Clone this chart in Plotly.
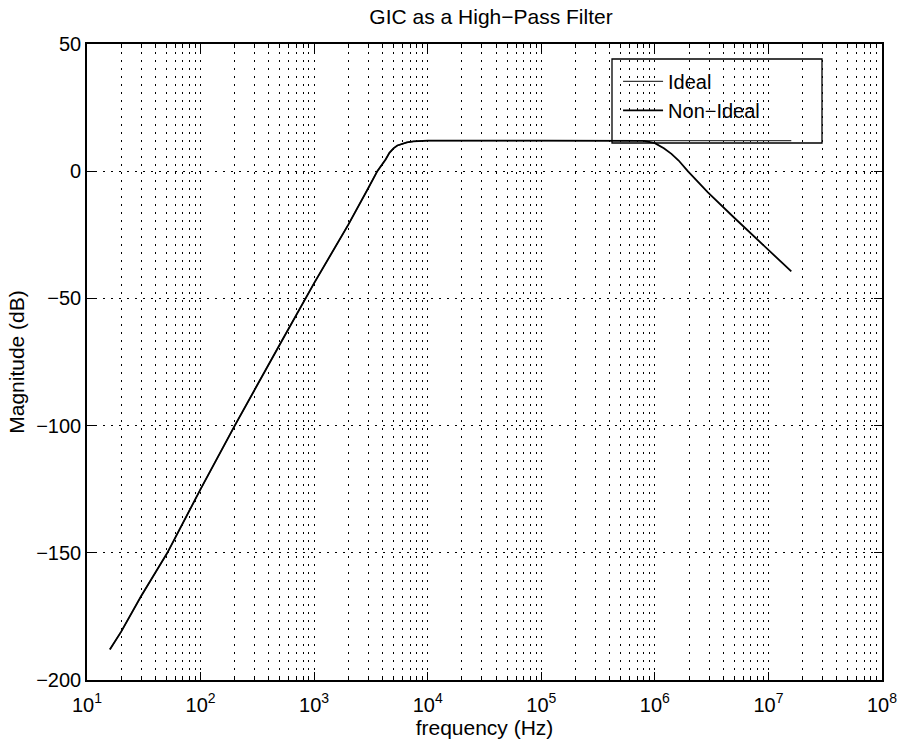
import plotly.graph_objects as go

# ---- data ----
freq_ideal = [15.9, 20, 30, 51, 100, 200, 500, 832, 1000, 2000, 2335, 3000,
              3600, 4260, 4600, 5000, 5400, 6000, 6560, 7500, 9000, 1e4, 1e5, 1e6, 1.59e7]
mag_ideal = [-188, -181, -167, -150, -125, -100, -68, -50, -44, -21, -15.7, -6.6,
             0, 4.6, 7.2, 9.0, 10.1, 10.9, 11.3, 11.7, 11.9, 12, 12, 12, 12]

freq_nonideal = [15.9, 20, 30, 51, 100, 200, 500, 832, 1000, 2000, 2335, 3000,
                 3600, 4260, 4600, 5000, 5400, 6000, 6560, 7500, 9000, 1e4, 1e5,
                 8e5, 1.0e6, 1.2e6, 1.4e6, 1.62e6, 1.95e6, 2.93e6, 5e6, 9.8e6, 1.59e7]
mag_nonideal = [-188, -181, -167, -150, -125, -100, -68, -50, -44, -21, -15.7, -6.6,
                0, 4.6, 7.2, 9.0, 10.1, 10.9, 11.3, 11.7, 11.9, 12, 12,
                11.9, 11.0, 9.0, 6.8, 4.2, 0, -8.3, -18.3, -30.4, -39.4]

x_tickvals = [1e1, 1e2, 1e3, 1e4, 1e5, 1e6, 1e7, 1e8]
x_ticktext = ["10<sup>1</sup>", "10<sup>2</sup>", "10<sup>3</sup>", "10<sup>4</sup>",
              "10<sup>5</sup>", "10<sup>6</sup>", "10<sup>7</sup>", "10<sup>8</sup>"]
x_minorvals = [m * 10 ** e for e in range(1, 8) for m in range(2, 10)]
y_tickvals = [-200, -150, -100, -50, 0, 50]

title_text = "GIC as a High\u2212Pass Filter"
x_title = "frequency (Hz)"
y_title = "Magnitude (dB)"
names = ["Ideal", "Non\u2212Ideal"]

FONT = "Liberation Sans, Arial, Helvetica, sans-serif"
DOT = "1.6px,6.4px"

fig = go.Figure()
fig.add_trace(go.Scatter(x=freq_ideal, y=mag_ideal, mode="lines", name=names[0],
                         line=dict(color="#3a3a3a", width=1.3)))
fig.add_trace(go.Scatter(x=freq_nonideal, y=mag_nonideal, mode="lines", name=names[1],
                         line=dict(color="black", width=1.8)))

fig.update_layout(
    width=901, height=743,
    margin=dict(l=87, r=19, t=44, b=63),
    paper_bgcolor="white", plot_bgcolor="white",
    font=dict(family=FONT, size=20, color="black"),
    title=dict(text=title_text, x=0.545, xanchor="center", y=0.977, yanchor="middle",
               font=dict(size=21)),
    showlegend=True,
    legend=dict(x=0.668, y=0.972, xanchor="left", yanchor="top",
                bgcolor="rgba(0,0,0,0)", borderwidth=0, itemwidth=40,
                font=dict(size=20), tracegroupgap=0),
    xaxis=dict(
        type="log", range=[1, 8], automargin=False,
        tickvals=x_tickvals, ticktext=x_ticktext,
        ticks="inside", ticklen=8, tickwidth=1, tickcolor="black",
        showline=True, linecolor="black", linewidth=1.6, mirror="ticks",
        showgrid=True, gridcolor="black", gridwidth=1.1, griddash=DOT,
        zeroline=False, ticklabelstandoff=6,
        minor=dict(tickvals=x_minorvals, ticks="inside", ticklen=4, tickcolor="black",
                   showgrid=True, gridcolor="black", gridwidth=1.1, griddash=DOT),
        title=dict(text=x_title, standoff=4, font=dict(size=21)),
        tickfont=dict(size=20),
    ),
    yaxis=dict(
        range=[-200, 50], tickvals=y_tickvals, automargin=False,
        ticks="inside", ticklen=8, tickwidth=1, tickcolor="black",
        showline=True, linecolor="black", linewidth=1.6, mirror="ticks",
        showgrid=True, gridcolor="black", gridwidth=1.1, griddash=DOT,
        zeroline=False,
        title=dict(text=y_title, standoff=6, font=dict(size=21)),
        tickfont=dict(size=20),
    ),
    shapes=[dict(type="rect", xref="paper", yref="paper",
                 x0=(612 - 87) / 795, x1=(822 - 87) / 795,
                 y0=1 - (143 - 44) / 636, y1=1 - (59 - 44) / 636,
                 line=dict(color="black", width=1.3), fillcolor="rgba(0,0,0,0)")],
)

fig.write_html("out.html", config={"displayModeBar": False},
               post_script="document.body.style.margin='0';document.body.style.overflow='hidden';")
